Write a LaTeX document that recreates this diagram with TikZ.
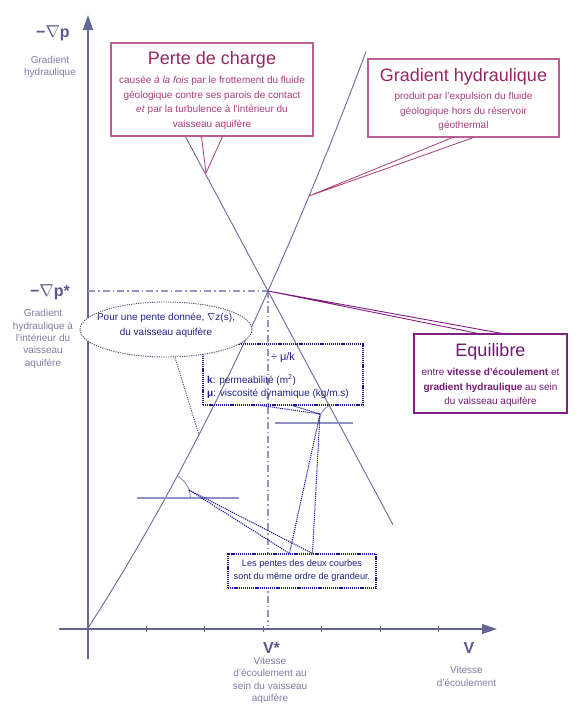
\documentclass[tikz,border=0pt]{standalone}
\usepackage{fontspec}
\setmainfont{Liberation Sans}
\usetikzlibrary{arrows.meta,shapes.geometric,calc}
\definecolor{axiscol}{RGB}{100,100,150}
\definecolor{curvecol}{RGB}{105,105,160}
\definecolor{anglecol}{RGB}{145,145,195}
\definecolor{dashcol}{RGB}{150,150,190}
\definecolor{navy}{RGB}{25,25,150}
\definecolor{navytext}{RGB}{35,35,135}
\definecolor{graylab}{RGB}{125,125,165}
\definecolor{boldlab}{RGB}{90,90,140}
\definecolor{pinkb}{RGB}{185,95,145}
\definecolor{pinkt}{RGB}{170,60,120}
\definecolor{pinktitle}{RGB}{150,40,100}
\definecolor{purpb}{RGB}{130,30,130}
\definecolor{purpt}{RGB}{115,25,115}
\definecolor{ellcol}{RGB}{80,80,110}
\tikzset{
  axisln/.style={draw=axiscol, line width=1.3pt},
  curveln/.style={draw=curvecol, line width=0.9pt},
  dashdotln/.style={draw=dashcol, line width=1.4pt, dash pattern=on 7pt off 3pt on 1.5pt off 3pt},
  angleln/.style={draw=anglecol, line width=2pt},
  anglearc/.style={draw=anglecol, line width=1pt},
  navyptr/.style={draw=navy, line width=1pt, dash pattern=on 1.2pt off 0.9pt},
  ellptr/.style={draw=ellcol, line width=0.9pt, dash pattern=on 1.2pt off 1.1pt},
  pinkptr/.style={draw=pinkt, line width=0.8pt},
  purpptr/.style={draw=purpb, line width=0.9pt},
  lbl/.style={font=\fontsize{10}{12.4}\selectfont, text=graylab, align=center, inner sep=0pt},
  biglbl/.style={font=\fontsize{16}{18}\selectfont\bfseries, text=boldlab, inner sep=0pt},
  pinkbox/.style={draw=pinkb, fill=white, line width=1.1pt, inner sep=0pt},
  purpbox/.style={draw=purpb, fill=white, line width=1.4pt, inner sep=0pt},
  navybox/.style={draw=navy, line width=1.1pt, dash pattern=on 1.2pt off 0.9pt, inner sep=0pt},
  titletxt/.style={font=\fontsize{18}{20}\selectfont, inner sep=0pt},
  bodytxt/.style={font=\fontsize{10}{14.5}\selectfont, align=center, inner sep=0pt},
  navytxt/.style={font=\fontsize{10}{14.5}\selectfont, text=navytext, inner sep=0pt},
}
\begin{document}
\begin{tikzpicture}[x=1pt,y=-1pt]
\fill[white] (0,0) rectangle (580,720);
\useasboundingbox (0,0) rectangle (580,720);

% axes
\coordinate (ybot) at (88,658.5);
\coordinate (ytop) at (88,15);
\coordinate (xleft) at (59,629);
\coordinate (xright) at (497,629);
\draw[axisln, -{Triangle[length=15pt,width=10pt]}] (ybot) -- (ytop);
\draw[axisln, -{Triangle[length=15pt,width=10pt]}] (xleft) -- (xright);
\foreach \k in {1,...,6} \draw[axisln, line width=1pt] ({88+58.4*\k},626) -- ({88+58.4*\k},632);

% equilibrium point and dash-dot lines
\coordinate (eq) at (268,291);
\coordinate (eqx) at (268,626);
\coordinate (eqy) at (88,291);
\draw[dashdotln] (eq) -- (eqx);
\draw[dashdotln] (eqy) -- (eq);

% rising curve (hydraulic gradient)
\draw[curveln] plot[domain=0:2.78, samples=90, variable=\v]
  ({88+100*\v},{628-(155*\v+16.22*\v*\v+0.935*\v*\v*\v)});
% falling line (head loss)
\coordinate (ftop) at ($(eq)+(-96.8,-181)$);
\coordinate (fbot) at ($(eq)+(125,233.75)$);
\draw[curveln] (ftop) -- (fbot);

% angle marks
\coordinate (la) at (165.4,498);
\coordinate (laL) at (137,498);
\coordinate (laR) at (239,498);
\draw[angleln] (laL) -- (laR);
\draw[anglearc] ($(la)+(25,0)$) arc[start angle=0, end angle=-61.2, radius=25];
\coordinate (ra) at (338.6,423);
\coordinate (raL) at (275,423);
\coordinate (raR) at (353,423);
\draw[angleln] (raL) -- (raR);
\draw[anglearc] ($(ra)+(-20,0)$) arc[start angle=180, end angle=241.9, radius=20];

% navy boxes
\node[navybox, minimum width=160pt, minimum height=61pt] (muk) at (283,374.5) {};
\node[navybox, fill=white, minimum width=148pt, minimum height=34pt,
      font=\fontsize{9.2}{13}\selectfont, text=navytext, align=center] (pentes) at (302,571)
  {Les pentes des deux courbes\\sont du même ordre de grandeur.};

% navy pointers
\coordinate (lap) at (189,490);
\coordinate (rap) at (320,414);
\coordinate (pb1) at ($(pentes.north west)+(62,0)$);
\coordinate (pb2) at ($(pentes.north west)+(85,0)$);
\draw[navyptr] (lap) -- (pb1);
\draw[navyptr] (lap) -- (pb2);
\draw[navyptr] (rap) -- (pb1);
\draw[navyptr] (rap) -- (pb2);
\coordinate (mb1) at ($(muk.south west)+(59,0)$);
\coordinate (mb2) at ($(muk.south west)+(90,0)$);
\draw[navyptr] (mb1) -- (rap);
\draw[navyptr] (mb2) -- (rap);

% mu/k texts
\node[navytxt, font=\fontsize{11}{13}\selectfont] (divmuk) at (283,358) {÷ μ/k};
\node[navytxt, anchor=west] (kperm) at (207,380) {\textbf{k}: permeabilité (m\textsuperscript{2})};
\node[navytxt, anchor=west] (muvisc) at (207,393.5) {\textbf{μ}: viscosité dynamique (kg/m.s)};

% ellipse
\coordinate (ellend) at (199,435);
\node[ellipse, draw=ellcol, fill=white, line width=0.9pt, dash pattern=on 1.2pt off 1.1pt,
      minimum width=172pt, minimum height=55pt, inner sep=0pt] (ell) at (166,329.5) {};
\draw[ellptr] ($(ell.south)+(9,0)$) -- (ellend);
\node[navytxt, align=center] (elltxt) at (166,325.5) {Pour une pente donnée, $\nabla$z(s),\\du vaisseau aquifère};

% Perte de charge callout
\coordinate (pdctip) at (206,173);
\node[pinkbox, minimum width=202pt, minimum height=93pt] (pdc) at (212,89.5) {};
\draw[pinkptr] ($(pdc.south west)+(91,0)$) -- (pdctip) -- ($(pdc.south west)+(112,0)$);
\node[titletxt, text=pinktitle] (pdctitle) at (212,60) {Perte de charge};
\node[bodytxt, text=pinkt] (pdcbody) at (212,103)
  {causée \textit{à la fois} par le frottement du fluide\\géologique contre ses parois de contact\\\textit{et} par la turbulence à l'intérieur du\\vaisseau aquifère};

% Gradient hydraulique callout
\coordinate (grtip) at (309,196);
\node[pinkbox, minimum width=191pt, minimum height=78pt] (gr) at (463.5,98) {};
\draw[pinkptr] ($(gr.south west)+(85,0)$) -- (grtip) -- ($(gr.south west)+(106,0)$);
\node[titletxt, text=pinktitle] (grtitle) at (463.5,77) {Gradient hydraulique};
\node[bodytxt, text=pinkt] (grbody) at (463.5,111.5)
  {produit par l'expulsion du fluide\\géologique hors du réservoir\\géothermal};

% Equilibre callout
\node[purpbox, minimum width=153pt, minimum height=79pt] (equ) at (490.5,373.5) {};
\draw[purpptr] ($(equ.north west)+(64,0)$) -- (eq) -- ($(equ.north west)+(88,0)$);
\node[titletxt, text=purpt] (equtitle) at (490.5,352) {Equilibre};
\node[bodytxt, text=purpt] (equbody) at (490.5,387.5)
  {entre \textbf{vitesse d'écoulement} et\\\textbf{gradient hydraulique} au sein\\du vaisseau aquifère};

% axis labels
\node[biglbl] (gp) at (53,33) {−$\nabla$p};
\node[lbl] (gplab) at (50,67) {Gradient\\hydraulique};
\node[biglbl] (gps) at (50,292) {−$\nabla$p*};
\node[lbl] (gpslab) at (43,339) {Gradient\\hydraulique à\\l'intérieur du\\vaisseau\\aquifère};
\node[biglbl] (vs) at (271.5,648) {V*};
\node[lbl] (vslab) at (270,680.3) {Vitesse\\d'écoulement au\\sein du vaisseau\\aquifère};
\node[biglbl] (vv) at (469,648) {V};
\node[lbl] (vvlab) at (466.5,676.5) {Vitesse\\d'écoulement};
\end{tikzpicture}
\end{document}
